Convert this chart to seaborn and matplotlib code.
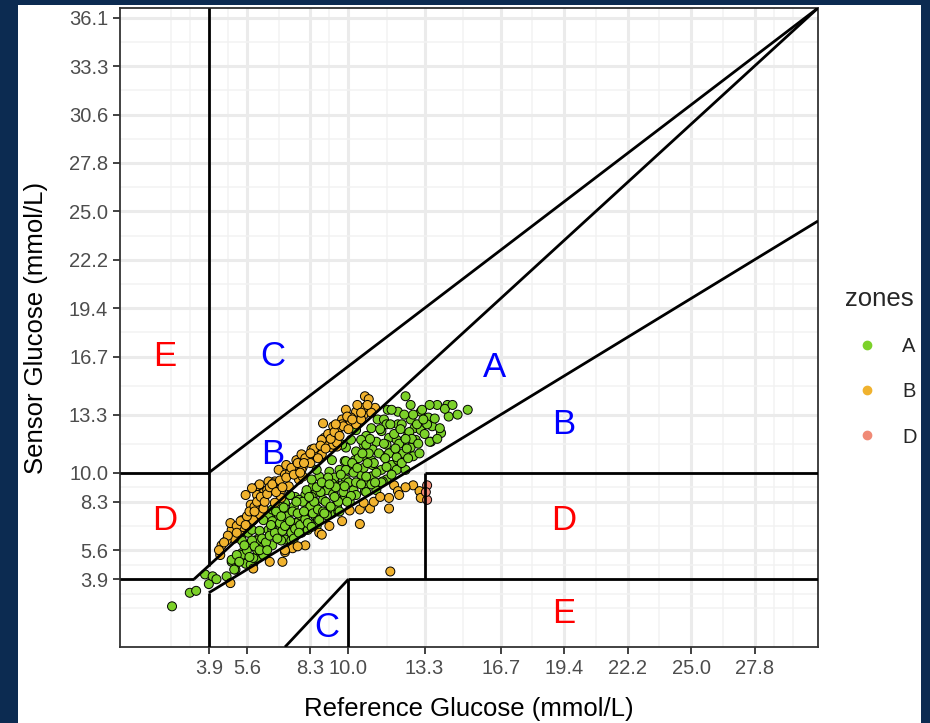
import pandas as pd
import seaborn as sns
import matplotlib.pyplot as plt
from matplotlib.lines import Line2D
from matplotlib.patches import Rectangle

# points, in mg/dL (axis labelled in mmol/L)
a_ref = [41, 55, 60, 67, 70, 73, 76, 84, 88, 91, 96, 99, 105, 108, 112, 115,
         88, 90, 96, 103, 105, 96, 101, 109, 112, 114, 117, 122, 117, 125, 133,
         130, 138, 143, 148, 154, 138, 146, 154, 125, 130, 120, 154,
         151, 141, 137, 130, 125, 154, 160, 167, 169, 161, 157, 165, 152, 148,
         167, 156, 141, 133, 172,
         211, 219, 225, 229, 237, 243, 250, 246, 245, 232, 227, 222, 229, 223,
         214, 208, 216, 212, 206, 202, 198, 203, 208, 219, 194, 192, 199, 193,
         186, 178, 185, 177, 199, 206, 198, 189, 181, 173, 169, 210, 219, 231,
         258, 259, 274, 253, 244,
         207, 193, 195, 177, 171, 155, 163, 148, 167, 178, 198,
         113, 120, 126, 134, 142, 147, 155, 163, 171, 178, 184, 175, 135, 127,
         120, 108, 104, 100, 96, 113, 131, 157, 163, 181, 186, 194, 202, 190,
         198, 218, 225, 151, 167, 175, 182, 190, 186, 194, 210, 218, 222, 229,
         237, 233, 210, 214,
         100, 104, 108, 110, 112, 115, 118, 120, 122, 124, 126, 128, 130, 132,
         135, 136, 138, 140, 142, 144, 146, 148, 150, 152, 153, 156, 158, 160,
         162, 164, 166, 168, 170, 172, 174, 176, 178, 180, 182, 184, 186, 188,
         190, 192, 194, 196, 198, 200, 202, 204, 206, 208, 210, 212, 214, 216,
         218, 220, 222, 224, 226, 228, 230, 234, 236, 238, 240, 242, 248, 252,
         256, 262, 266, 92, 94, 98, 102, 106, 110, 116, 119, 123, 127, 129,
         134, 137, 139, 141, 145, 149, 151, 155, 159, 161, 165, 169, 173, 177,
         179, 183, 187, 191, 195, 197, 201, 205, 209, 213, 217, 221, 225, 227,
         231, 235, 239, 244, 250]
a_sen = [42, 56, 58, 75, 65, 73, 70, 73, 88, 80, 97, 86, 86, 92, 97, 104,
         90, 80, 95, 85, 92, 116, 118, 112, 104, 95, 121, 138, 135, 124, 121,
         111, 128, 118, 121, 128, 155, 157, 159, 150, 149, 142, 135,
         155, 152, 145, 140, 133, 145, 152, 162, 173, 169, 176, 181, 166, 140,
         138, 131, 130, 128, 140,
         245, 243, 259, 250, 243, 237, 250, 228, 212, 226, 219, 212, 206, 200,
         188, 197, 202, 216, 223, 212, 226, 235, 235, 230, 218, 209, 204, 197,
         202, 206, 193, 192, 188, 183, 176, 180, 183, 183, 175, 173, 193, 197,
         250, 238, 245, 221, 212,
         171, 161, 168, 154, 145, 125, 140, 145, 169, 173, 176,
         131, 121, 147, 157, 136, 162, 183, 162, 152, 183, 162, 167, 110, 110,
         105, 110, 121, 105, 110, 95, 131, 131, 136, 150, 157, 160, 162, 178,
         193, 183, 183, 173, 193, 209, 214, 214, 224, 209, 209, 214, 230, 235,
         224, 214, 230, 245,
         100, 110, 100, 120, 112, 108, 115, 130, 118, 112, 128, 120, 125, 135,
         118, 140, 122, 138, 126, 150, 132, 128, 145, 138, 150, 142, 160, 140,
         150, 175, 145, 158, 165, 150, 178, 160, 192, 170, 156, 180, 170, 195,
         168, 185, 176, 200, 168, 190, 180, 200, 170, 210, 186, 200, 178, 220,
         196, 210, 190, 240, 205, 222, 215, 230, 200, 245, 220, 230, 236, 226,
         246, 250, 240, 95, 88, 105, 93, 104, 100, 100, 126, 140, 135, 144,
         130, 112, 150, 118, 140, 155, 124, 165, 170, 138, 168, 155, 140, 166,
         150, 190, 185, 200, 190, 215, 170, 225, 195, 230, 205, 225, 215, 195,
         240, 210, 235, 250, 215]

b_ref = [79, 87, 105, 128, 130, 136, 146, 213,
         109, 112, 112, 110, 97, 95, 90, 130, 104, 122,
         125, 110, 113, 117, 121, 130, 134, 138, 144, 148, 152, 157, 160, 167,
         171, 163, 127, 127, 122, 120, 133, 141, 144, 113, 105, 97,
         193, 186, 192, 201, 177, 181, 186, 190, 171, 172, 168,
         198, 160, 168, 175, 161, 171, 148, 155,
         216, 219, 220, 231, 236, 237, 212, 212, 197, 189, 192, 189, 181, 157,
         159,
         96, 103, 108, 116, 104, 99, 131, 139, 143, 151, 159, 165, 171, 175,
         182, 178, 192, 196, 88, 84, 80, 87, 143, 159,
         92, 95, 100, 102, 106, 108, 111, 114, 116, 118, 120, 123, 126, 128,
         131, 135, 137, 140, 142, 146, 150, 153, 156, 158, 162, 164, 166, 169,
         173, 176, 179, 183, 187, 190, 195, 85, 82, 78, 92, 99, 106, 170, 180,
         150, 145, 118, 140, 165, 175, 200, 205, 225]
b_sen = [95, 66, 81, 88, 98, 102, 105, 78,
         166, 159, 152, 137, 122, 119, 112, 100, 130, 171,
         183, 168, 159, 171, 169, 178, 180, 183, 186, 192, 197, 199, 204, 206,
         207, 212, 162, 154, 149, 162, 166, 173, 176, 143, 131, 124,
         259, 243, 240, 247, 235, 231, 230, 235, 216, 225, 209,
         242, 231, 228, 235, 216, 211, 195, 199,
         167, 161, 157, 167, 161, 154, 154, 143, 143, 142, 149, 127, 141, 118,
         116,
         131, 147, 157, 162, 164, 157, 188, 193, 199, 204, 214, 219, 224, 230,
         237, 245, 247, 256, 121, 110, 105, 128, 183, 199,
         125, 130, 135, 140, 145, 150, 155, 150, 158, 165, 168, 160, 172, 165,
         175, 185, 178, 190, 180, 195, 190, 205, 195, 208, 205, 220, 215, 222,
         218, 228, 238, 235, 250, 242, 250, 115, 108, 100, 118, 126, 140, 230,
         225, 200, 190, 88, 104, 125, 130, 150, 155, 165]

d_ref = [242, 242, 241]
d_sen = [167, 152, 160]

x_ticks = [70, 100, 150, 180, 240, 300, 350, 400, 450, 500]
x_tick_labels = ['3.9', '5.6', '8.3', '10.0', '13.3', '16.7', '19.4', '22.2', '25.0', '27.8']
y_ticks = [70, 100, 150, 180, 240, 300, 350, 400, 450, 500, 550, 600, 650]
y_tick_labels = ['3.9', '5.6', '8.3', '10.0', '13.3', '16.7', '19.4', '22.2', '25.0',
                 '27.8', '30.6', '33.3', '36.1']
x_minor = [40, 55, 85, 125, 165, 210, 270, 325, 375, 425, 475, 515, 530]
y_minor = [40, 55, 85, 125, 165, 210, 270, 325, 375, 425, 475, 525, 575, 625]

# Clarke grid boundaries
seg_x0 = [0, 58.3, 70, 70, 70, 0, 70, 130, 180, 180, 240, 240]
seg_y0 = [70, 70, 56, 0, 84, 180, 180, 0, 0, 70, 70, 180]
seg_x1 = [58.3, 550, 550, 70, 70, 70, 550, 180, 180, 550, 240, 550]
seg_y1 = [70, 660, 440, 56, 660, 180, 660, 70, 70, 70, 180, 180]

zone_lab = ['E', 'C', 'A', 'B', 'B', 'D', 'D', 'E', 'C']
zone_lab_x = [35, 120, 295, 120, 350, 35, 350, 350, 163]
zone_lab_y = [300, 300, 289, 199, 230, 131, 131, 35, 20]
zone_lab_col = ['red', 'blue', 'blue', 'blue', 'blue', 'red', 'red', 'red', 'blue']

zone_colors = {'A': '#7CD12A', 'B': '#F0B22E', 'D': '#F08A76'}

df = pd.DataFrame({
    'ref': a_ref + b_ref + d_ref,
    'sensor': a_sen + b_sen + d_sen,
    'zones': ['A'] * len(a_ref) + ['B'] * len(b_ref) + ['D'] * len(d_ref),
})

sns.set_style('white')
plt.rcParams['font.family'] = ['Liberation Sans', 'DejaVu Sans']

fig = plt.figure(figsize=(9.3, 7.23), dpi=100, facecolor='#0c2b51')
fig.patches.append(Rectangle((18 / 930, 0), 903 / 930, 1 - 5 / 723, transform=fig.transFigure,
                             facecolor='white', edgecolor='none', zorder=-1))
ax = fig.add_axes([120 / 930, 76 / 723, 698 / 930, 639 / 723])

sns.scatterplot(data=df, x='ref', y='sensor', hue='zones', palette=zone_colors,
                edgecolor='black', linewidth=0.7, s=42, legend=False, ax=ax, zorder=2)

for x0, y0, x1, y1 in zip(seg_x0, seg_y0, seg_x1, seg_y1):
    ax.plot([x0, x1], [y0, y1], color='black', lw=2.0, zorder=3, solid_capstyle='butt')

for s, x, y, c in zip(zone_lab, zone_lab_x, zone_lab_y, zone_lab_col):
    ax.text(x, y, s, color=c, fontsize=25, ha='center', va='center', zorder=4)

ax.set_xlim(0, 550)
ax.set_ylim(0, 660)
ax.set_xticks(x_ticks, x_tick_labels)
ax.set_yticks(y_ticks, y_tick_labels)
ax.set_xticks(x_minor, minor=True)
ax.set_yticks(y_minor, minor=True)
ax.grid(which='major', color='#EBEBEB', lw=2.2)
ax.grid(which='minor', color='#F2F2F2', lw=1.1)
ax.set_axisbelow(True)
ax.tick_params(which='major', labelsize=14.5, labelcolor='#4D4D4D', length=5, width=1.3,
               color='#333333', direction='out', left=True, bottom=True)
ax.tick_params(which='minor', length=0)
for sp in ax.spines.values():
    sp.set_color('#333333')
    sp.set_linewidth(1.3)

ax.set_xlabel('Reference Glucose (mmol/L)', fontsize=18.5, color='black', labelpad=14)
ax.set_ylabel('Sensor Glucose (mmol/L)', fontsize=18.5, color='black', labelpad=15)

handles = [Line2D([0], [0], marker='o', ls='', markerfacecolor=zone_colors[z],
                  markeredgecolor=zone_colors[z], markersize=6) for z in ['A', 'B', 'D']]
fig.legend(handles, ['A', 'B', 'D'], title='zones', loc='upper left',
           bbox_to_anchor=(845 / 930, 1 - 287 / 723), frameon=False, fontsize=14.5,
           title_fontsize=18.5, handlelength=2.15, handletextpad=0.7, labelspacing=1.3,
           alignment='left', borderpad=0, borderaxespad=0)

fig.savefig('out.png', dpi=100, facecolor=fig.get_facecolor())
